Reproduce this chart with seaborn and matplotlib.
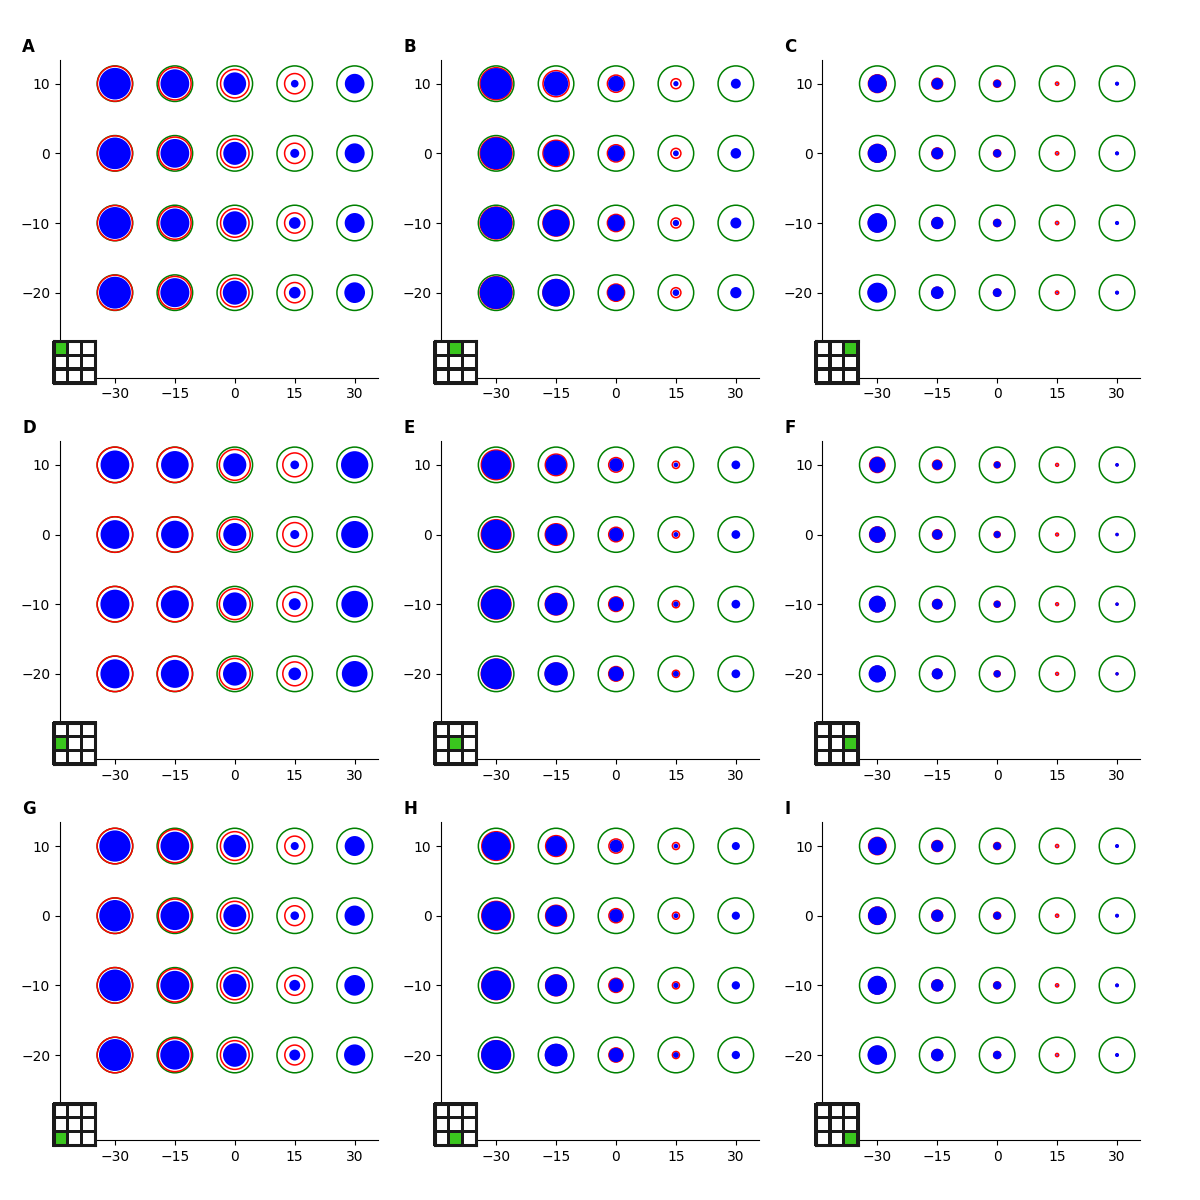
import numpy as np
import pandas as pd
import matplotlib.pyplot as plt
import seaborn as sns
from matplotlib.colors import ListedColormap

# Posiciones de la cuadrícula de marcadores
x_vals = [-30, -15, 0, 15, 30]
y_vals = [10, 0, -10, -20]
panel_labels = ["A", "B", "C", "D", "E", "F", "G", "H", "I"]

# Diámetro (pt) del anillo verde, igual en todos los paneles
green_ring_pt = 25.6

# Diámetro (pt) del anillo rojo por columna, un renglón por panel
red_ring_pt = [
    [25.2, 23.4, 20.5, 14.6, 8.0],   # A
    [23.0, 18.8, 12.4, 7.2, 3.0],    # B
    [12.8, 7.8, 5.2, 2.4, 1.5],      # C
    [25.6, 25.3, 22.2, 17.2, 10.0],  # D
    [21.3, 15.5, 10.5, 5.2, 3.0],    # E
    [11.0, 6.8, 4.4, 2.1, 1.3],      # F
    [25.6, 23.9, 20.7, 14.3, 8.0],   # G
    [20.6, 15.0, 10.2, 5.1, 3.0],    # H
    [12.5, 7.9, 5.1, 2.3, 1.4],      # I
]

# Diámetro (pt) del punto azul, filas y = 10, 0, -10, -20
blue_dot_pt = [
    [[22.8, 20.7, 16.3, 5.5, 14.2], [22.8, 20.7, 16.6, 6.5, 14.4],
     [23.0, 20.9, 16.9, 8.4, 14.4], [23.0, 20.9, 17.3, 8.4, 14.9]],  # A
    [[22.5, 17.5, 11.3, 3.8, 7.2], [22.9, 18.3, 11.7, 4.2, 7.6],
     [23.3, 19.2, 12.0, 4.6, 7.9], [23.5, 19.9, 12.2, 4.8, 8.1]],   # B
    [[13.4, 8.1, 5.5, 1.1, 3.0], [13.8, 8.4, 5.8, 1.1, 3.0],
     [14.2, 8.8, 6.0, 1.2, 3.0], [14.4, 9.1, 6.3, 1.2, 3.0]],       # C
    [[20.7, 19.9, 16.6, 6.3, 19.7], [20.7, 19.9, 16.6, 6.5, 19.5],
     [20.9, 20.2, 17.0, 8.6, 19.2], [20.9, 20.2, 17.0, 9.1, 18.5]], # D
    [[20.9, 14.9, 9.6, 3.4, 6.3], [21.3, 15.4, 9.9, 3.6, 6.3],
     [21.8, 16.1, 10.3, 4.0, 6.3], [22.1, 16.8, 10.6, 4.3, 6.3]],   # E
    [[11.3, 7.0, 4.8, 0.9, 2.7], [11.8, 7.3, 4.9, 0.9, 2.6],
     [12.2, 7.6, 5.0, 1.0, 2.6], [12.5, 7.9, 5.1, 1.0, 2.5]],       # F
    [[22.5, 20.7, 16.3, 5.8, 14.4], [22.6, 20.7, 16.5, 6.2, 14.6],
     [22.8, 20.9, 16.8, 7.9, 14.9], [23.0, 21.0, 17.0, 7.9, 15.3]], # G
    [[20.4, 14.6, 9.1, 3.4, 5.8], [20.8, 15.2, 9.5, 3.6, 5.9],
     [21.3, 15.8, 9.9, 3.9, 6.0], [21.6, 16.4, 10.3, 4.2, 6.0]],    # H
    [[13.0, 8.4, 5.5, 1.0, 2.9], [13.4, 8.6, 5.6, 1.0, 2.9],
     [13.8, 8.8, 5.8, 1.1, 2.9], [14.1, 9.0, 6.0, 1.1, 2.9]],       # I
]

green_cell = "#3ac61e"
grid_line = "#1a1a1a"

fig, axes = plt.subplots(3, 3, figsize=(12, 12), dpi=100)
fig.subplots_adjust(left=0.05, right=0.95, bottom=0.05, top=0.95,
                    wspace=0.2, hspace=0.2)

for i, lab in enumerate(panel_labels):
    ax = axes.flat[i]

    # Tabla larga con una fila por marcador
    filas = []
    for r, y in enumerate(y_vals):
        for c, x in enumerate(x_vals):
            filas.append({"x": x, "y": y,
                          "rojo": red_ring_pt[i][c],
                          "azul": blue_dot_pt[i][r][c]})
    df = pd.DataFrame(filas)

    sns.scatterplot(data=df, x="x", y="y", s=green_ring_pt ** 2,
                    facecolor="none", edgecolor="green", linewidth=1.1,
                    legend=False, ax=ax)
    sns.scatterplot(data=df, x="x", y="y", s=(df["rojo"] ** 2).to_numpy(),
                    facecolor="none", edgecolor="red", linewidth=1.1,
                    legend=False, ax=ax)
    sns.scatterplot(data=df, x="x", y="y", s=(df["azul"] ** 2).to_numpy(),
                    color="blue", linewidth=0, legend=False, ax=ax)

    ax.set_xlim(-43.75, 35.75)
    ax.set_ylim(-32.2, 13.4)
    ax.set_xticks(x_vals)
    ax.set_yticks(y_vals)
    ax.set_xlabel("")
    ax.set_ylabel("")
    sns.despine(ax=ax)

    ax.text(-0.119, 1.025, lab, transform=ax.transAxes, fontsize=12,
            fontweight="bold", ha="left", va="baseline")

    # Mini cuadrícula 3x3 que indica la posición del panel
    pos = ax.get_position()
    lado = 41.5 / 1200
    cx = pos.x0 + 14.5 / 1200
    cy = pos.y0 + 15.5 / 1200
    iax = fig.add_axes([cx - lado / 2, cy - lado / 2, lado, lado])
    celdas = np.zeros((3, 3))
    celdas[i // 3, i % 3] = 1
    sns.heatmap(celdas, ax=iax, cmap=ListedColormap(["white", green_cell]),
                vmin=0, vmax=1, cbar=False, linewidths=1.6,
                linecolor=grid_line, xticklabels=False, yticklabels=False)
    malla = iax.collections[0]
    malla.set_clip_on(False)
    malla.set_snap(False)
    for sp in iax.spines.values():
        sp.set_visible(True)
        sp.set_linewidth(2.2)
        sp.set_color(grid_line)

plt.savefig("out.png", dpi=100)
